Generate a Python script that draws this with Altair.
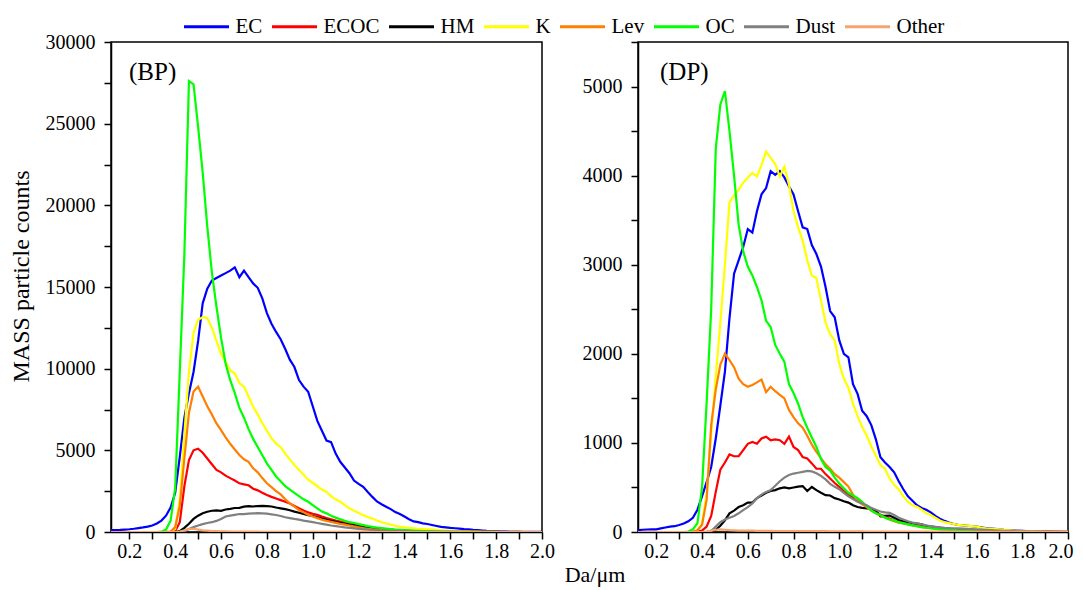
import altair as alt
import pandas as pd

# sampling grid of particle diameter (um), 0.12 .. 2.00 step 0.02
X = [round(0.12 + 0.02 * i, 2) for i in range(95)]

SERIES = ["EC", "ECOC", "HM", "K", "Lev", "OC", "Dust", "Other"]
COLORS = ["#0000FF", "#FF0000", "#000000", "#FFFF00", "#FF7F00", "#00FF00", "#808080", "#F4A46C"]

# ---------------- BP panel ----------------
BP_EC = [110, 120, 130, 150, 170, 200, 240, 280, 330, 400,
         520, 700, 1000, 1500, 2400, 4600, 7000, 8500, 9800, 11700,
         14000, 14900, 15400, 15550, 15700, 15850, 16000, 16200, 15600, 16000,
         15600, 15220, 14950, 14300, 13400, 12750, 12250, 11800, 11200, 10550,
         10100, 9300, 8900, 8590, 7700, 6800, 6200, 5600, 5500, 4800,
         4300, 3950, 3600, 3150, 2950, 2770, 2450, 2150, 1870, 1700,
         1550, 1400, 1220, 1100, 950, 780, 650, 600, 530, 490,
         430, 370, 310, 280, 250, 230, 210, 180, 160, 130,
         110, 90, 70, 60, 50, 40, 35, 30, 25, 20,
         15, 12, 10, 8, 5]
BP_ECOC = [0, 0, 0, 0, 0, 0, 0, 0, 0, 0,
           0, 0, 10, 20, 50, 600, 2800, 4400, 5000, 5100,
           4850, 4500, 4150, 3800, 3650, 3450, 3300, 3150, 2980, 2920,
           2860, 2650, 2550, 2400, 2260, 2150, 2050, 1950, 1850, 1750,
           1600, 1450, 1320, 1200, 1120, 1050, 950, 860, 780, 700,
           640, 570, 520, 460, 400, 350, 300, 260, 220, 190,
           160, 140, 120, 100, 85, 70, 60, 50, 40, 35,
           30, 25, 20, 18, 15, 12, 10, 8, 6, 5,
           4, 3, 3, 2, 2, 1, 1, 1, 0, 0,
           0, 0, 0, 0, 0]
BP_HM = [0, 0, 0, 0, 0, 0, 0, 0, 0, 0,
         0, 0, 0, 0, 0, 50, 250, 500, 800, 1000,
         1150, 1240, 1300, 1320, 1300, 1380, 1420, 1470, 1480, 1550,
         1580, 1560, 1590, 1600, 1580, 1560, 1500, 1450, 1400, 1330,
         1250, 1180, 1100, 1030, 980, 900, 820, 740, 680, 620,
         560, 500, 460, 410, 360, 310, 270, 240, 210, 180,
         150, 130, 110, 90, 75, 60, 50, 40, 35, 30,
         25, 20, 16, 13, 10, 8, 6, 5, 4, 3,
         2, 2, 1, 1, 1, 0, 0, 0, 0, 0,
         0, 0, 0, 0, 0]
BP_K = [0, 0, 0, 0, 0, 0, 0, 0, 0, 0,
        0, 0, 0, 20, 200, 2000, 6000, 9800, 12200, 13000,
        13150, 13100, 12500, 11700, 10900, 10400, 9900, 9700, 9120, 8890,
        8300, 7670, 7200, 6670, 6200, 5750, 5400, 5200, 4800, 4450,
        4100, 3800, 3500, 3200, 3000, 2800, 2600, 2450, 2200, 2000,
        1850, 1650, 1450, 1300, 1170, 1030, 920, 820, 700, 600,
        520, 450, 380, 330, 290, 260, 230, 200, 180, 165,
        140, 120, 100, 85, 70, 60, 50, 40, 30, 25,
        20, 15, 12, 10, 8, 6, 5, 4, 3, 2,
        2, 1, 1, 0, 0]
BP_LEV = [0, 0, 0, 0, 0, 0, 0, 0, 0, 0,
          0, 0, 0, 10, 300, 1600, 4500, 7300, 8600, 8900,
          8300, 7700, 7200, 6650, 6240, 5800, 5400, 5050, 4710, 4450,
          4300, 3900, 3650, 3300, 2980, 2750, 2500, 2300, 2000, 1750,
          1550, 1350, 1200, 1050, 950, 850, 760, 680, 620, 560,
          500, 450, 400, 340, 290, 240, 200, 170, 140, 120,
          100, 85, 70, 60, 50, 40, 35, 30, 25, 20,
          16, 13, 10, 8, 6, 5, 4, 3, 2, 2,
          1, 1, 1, 0, 0, 0, 0, 0, 0, 0,
          0, 0, 0, 0, 0]
BP_OC = [0, 0, 0, 0, 0, 0, 0, 0, 0, 0,
         0, 20, 150, 700, 2700, 9800, 17000, 27600, 27400, 24800,
         22000, 18700, 15900, 13800, 11900, 10300, 9300, 8500, 7600, 7000,
         6300, 5700, 5200, 4700, 4200, 3800, 3400, 3100, 2800, 2600,
         2400, 2200, 2000, 1850, 1650, 1450, 1250, 1140, 1000, 880,
         780, 680, 600, 550, 480, 420, 360, 310, 270, 245,
         210, 180, 150, 130, 110, 95, 80, 70, 60, 50,
         42, 35, 30, 25, 20, 16, 13, 10, 8, 6,
         5, 4, 3, 2, 2, 1, 1, 0, 0, 0,
         0, 0, 0, 0, 0]
BP_DUST = [0, 0, 0, 0, 0, 0, 0, 0, 0, 0,
           0, 0, 0, 0, 0, 0, 60, 180, 300, 400,
           480, 550, 600, 680, 800, 950, 1000, 1050, 1100, 1100,
           1120, 1140, 1150, 1140, 1120, 1080, 1040, 980, 900, 850,
           800, 760, 700, 650, 600, 550, 500, 450, 400, 360,
           320, 280, 250, 220, 190, 165, 140, 120, 100, 85,
           70, 60, 50, 42, 35, 30, 25, 20, 16, 13,
           10, 8, 6, 5, 4, 3, 2, 2, 1, 1,
           0, 0, 0, 0, 0, 0, 0, 0, 0, 0,
           0, 0, 0, 0, 0]
BP_OTHER = [0, 0, 0, 0, 0, 0, 0, 0, 0, 0,
            0, 0, 0, 0, 0, 30, 100, 180, 200, 150,
            100, 80, 60, 50, 40, 35, 30, 30, 25, 25,
            20, 20, 20, 15, 15, 15, 12, 12, 10, 10,
            10, 8, 8, 8, 6, 6, 5, 5, 5, 4,
            4, 3, 3, 3, 2, 2, 2, 2, 1, 1,
            0, 0, 0, 0, 0, 0, 0, 0, 0, 0,
            0, 0, 0, 0, 0, 0, 0, 0, 0, 0,
            0, 0, 0, 0, 0, 0, 0, 0, 0, 0,
            0, 0, 0, 0, 0]

# ---------------- DP panel ----------------
DP_EC = [22, 25, 28, 30, 30, 40, 50, 60, 65, 78,
         95, 120, 160, 250, 400, 560, 730, 1050, 1420, 1800,
         2400, 2900, 3050, 3200, 3400, 3360, 3600, 3790, 3860, 4050,
         4010, 4050, 3980, 3880, 3790, 3600, 3420, 3400, 3220, 3120,
         2980, 2750, 2480, 2410, 2150, 2000, 1960, 1660, 1550, 1360,
         1300, 1200, 1040, 840, 780, 730, 670, 570, 480, 400,
         350, 300, 270, 250, 220, 180, 150, 125, 105, 90,
         80, 75, 70, 65, 60, 52, 45, 40, 35, 30,
         25, 22, 18, 15, 12, 10, 8, 7, 6, 5,
         5, 4, 4, 3, 3]
DP_ECOC = [0, 0, 0, 0, 0, 0, 0, 0, 0, 0,
           0, 0, 0, 5, 15, 60, 180, 450, 700, 780,
           870, 850, 850, 920, 990, 1010, 990, 1050, 1070, 1030,
           1040, 1030, 990, 1070, 955, 920, 840, 825, 770, 710,
           710, 650, 600, 550, 507, 460, 420, 390, 360, 320,
           290, 250, 220, 195, 175, 150, 130, 115, 100, 90,
           80, 72, 65, 60, 55, 50, 45, 40, 35, 32,
           30, 27, 24, 21, 18, 16, 14, 12, 10, 9,
           8, 7, 6, 5, 4, 3, 3, 2, 2, 2,
           1, 1, 1, 1, 1]
DP_HM = [0, 0, 0, 0, 0, 0, 0, 0, 0, 0,
         0, 0, 0, 0, 0, 0, 10, 25, 70, 130,
         210, 240, 280, 300, 330, 330, 380, 410, 440, 460,
         470, 490, 500, 490, 500, 510, 515, 460, 505, 470,
         440, 414, 410, 380, 365, 345, 330, 300, 280, 270,
         265, 265, 240, 175, 180, 185, 160, 135, 120, 110,
         100, 95, 85, 70, 60, 55, 48, 42, 36, 32,
         30, 26, 22, 18, 15, 12, 10, 8, 7, 6,
         5, 4, 3, 3, 2, 2, 1, 1, 1, 1,
         1, 0, 0, 0, 0]
DP_K = [0, 0, 0, 0, 0, 0, 0, 0, 0, 0,
        0, 0, 0, 20, 100, 430, 1100, 1750, 2350, 3000,
        3700, 3780, 3840, 3920, 3980, 4030, 3990, 4120, 4270, 4200,
        4130, 3990, 4100, 3900, 3600, 3420, 3270, 3050, 2880, 2850,
        2600, 2350, 2220, 2150, 1890, 1720, 1620, 1440, 1300, 1180,
        1080, 960, 860, 750, 710, 600, 530, 480, 400, 340,
        300, 283, 250, 210, 190, 160, 130, 110, 100, 90,
        80, 75, 70, 65, 60, 50, 42, 38, 34, 30,
        25, 20, 16, 13, 10, 8, 6, 5, 4, 3,
        3, 2, 2, 1, 1]
DP_LEV = [0, 0, 0, 0, 0, 0, 0, 0, 0, 0,
          0, 0, 5, 20, 80, 360, 1200, 1600, 1880, 2000,
          1930, 1850, 1720, 1660, 1630, 1650, 1680, 1710, 1570, 1630,
          1580, 1540, 1500, 1370, 1290, 1220, 1170, 1080, 980, 900,
          830, 760, 710, 650, 610, 560, 510, 420, 350, 310,
          280, 240, 210, 185, 165, 140, 120, 105, 95, 85,
          75, 65, 55, 48, 42, 38, 32, 28, 24, 20,
          17, 15, 12, 10, 8, 6, 5, 4, 3, 2,
          2, 1, 1, 1, 0, 0, 0, 0, 0, 0,
          0, 0, 0, 0, 0]
DP_OC = [0, 0, 0, 0, 0, 0, 0, 0, 0, 0,
         0, 5, 30, 100, 500, 1450, 2500, 4300, 4800, 4950,
         4500, 4000, 3450, 3150, 2980, 2880, 2750, 2600, 2370, 2300,
         2100, 2000, 1910, 1660, 1560, 1440, 1290, 1170, 1060, 955,
         820, 730, 690, 610, 545, 490, 440, 410, 380, 340,
         290, 240, 210, 190, 160, 140, 130, 110, 100, 85,
         75, 65, 55, 48, 42, 35, 30, 26, 23, 20,
         18, 15, 12, 10, 8, 7, 6, 5, 4, 3,
         3, 2, 2, 1, 1, 1, 0, 0, 0, 0,
         0, 0, 0, 0, 0]
DP_DUST = [0, 0, 0, 0, 0, 0, 0, 0, 0, 0,
           0, 0, 0, 0, 0, 0, 10, 60, 110, 140,
           160, 180, 210, 246, 280, 320, 380, 420, 450, 470,
           520, 570, 610, 640, 656, 665, 675, 686, 680, 660,
           630, 590, 540, 507, 480, 440, 400, 370, 340, 320,
           300, 270, 250, 230, 220, 215, 190, 160, 140, 120,
           105, 97, 85, 75, 65, 58, 52, 47, 44, 42,
           40, 38, 35, 32, 29, 26, 23, 21, 18, 16,
           14, 12, 10, 8, 7, 6, 5, 4, 3, 3,
           2, 2, 1, 1, 1]
DP_OTHER = [0, 0, 0, 0, 0, 0, 0, 0, 0, 0,
            0, 0, 0, 0, 0, 5, 15, 25, 30, 25,
            20, 18, 15, 15, 15, 15, 12, 12, 12, 12,
            10, 10, 10, 10, 10, 10, 10, 10, 10, 10,
            10, 10, 8, 8, 8, 8, 6, 6, 6, 6,
            5, 5, 5, 5, 5, 5, 5, 5, 5, 5,
            4, 4, 4, 4, 4, 4, 4, 4, 4, 4,
            3, 3, 3, 3, 3, 3, 3, 3, 3, 3,
            2, 2, 2, 2, 2, 2, 2, 2, 2, 2,
            1, 1, 1, 1, 1]

X_TICKS = [0.2, 0.3, 0.4, 0.5, 0.6, 0.7, 0.8, 0.9, 1.0, 1.1, 1.2, 1.3, 1.4,
           1.5, 1.6, 1.7, 1.8, 1.9, 2.0]
BP_YTICKS = [0, 2500, 5000, 7500, 10000, 12500, 15000, 17500, 20000,
             22500, 25000, 27500, 30000]
DP_YTICKS = [0, 500, 1000, 1500, 2000, 2500, 3000, 3500, 4000, 4500, 5000, 5500]

FONT = "Liberation Serif"
X_LABELS = "round(datum.value*10) % 2 == 0 ? format(datum.value, '.1f') : ''"


def long_frame(series_lists):
    rows = []
    for k, (name, vals) in enumerate(zip(SERIES, series_lists)):
        for x, v in zip(X, vals):
            rows.append({"x": x, "count": v, "species": name, "k": k})
    return pd.DataFrame(rows)


bp_df = long_frame([BP_EC, BP_ECOC, BP_HM, BP_K, BP_LEV, BP_OC, BP_DUST, BP_OTHER])
dp_df = long_frame([DP_EC, DP_ECOC, DP_HM, DP_K, DP_LEV, DP_OC, DP_DUST, DP_OTHER])


def panel(df, ymax, yticks, major, label, label_dx, ytitle, w, xaxis):
    y_expr = f"datum.value % {major} == 0 ? '' + datum.value : ''"
    if ytitle:
        yaxis = alt.Axis(values=yticks, title=ytitle, labelExpr=y_expr,
                         titleY=234, titlePadding=12, labelPadding=9,
                         labelFlush=False, labelOverlap=False)
    else:
        yaxis = alt.Axis(values=yticks, title=None, labelExpr=y_expr, labelPadding=9,
                         labelFlush=False, labelOverlap=False)
    lines = alt.Chart(df).mark_line(strokeWidth=2.2, clip=True).encode(
        x=alt.X("x:Q",
                scale=alt.Scale(domain=[0.12, 2.0], nice=False, zero=False),
                axis=xaxis),
        y=alt.Y("count:Q", scale=alt.Scale(domain=[0, ymax], nice=False), axis=yaxis),
        color=alt.Color("species:N",
                        scale=alt.Scale(domain=SERIES, range=COLORS),
                        legend=alt.Legend(title=None)),
        detail="k:O",
    )
    txt = alt.Chart(pd.DataFrame({"t": [label]})).mark_text(
        font=FONT, fontSize=25, align="left", baseline="middle", color="black"
    ).encode(x=alt.value(label_dx), y=alt.value(30), text="t:N")
    return alt.layer(lines, txt).properties(width=w, height=490)


left_x = alt.Axis(values=X_TICKS, title=None, labelPadding=2, labelFlush=False,
                  labelOverlap=False, labelExpr=X_LABELS)
right_x = alt.Axis(values=X_TICKS, title=None, labelPadding=2, labelFlush=True,
                   labelFlushOffset=5, labelOverlap=False, labelExpr=X_LABELS)

left = panel(bp_df, 30000, BP_YTICKS, 5000, "(BP)", 18, "MASS particle counts", 431, left_x)
right = panel(dp_df, 5500, DP_YTICKS, 1000, "(DP)", 22, None, 430, right_x)

chart = alt.hconcat(left, right, spacing=25).properties(
    title=alt.TitleParams("Da/μm", orient="bottom", anchor="middle", font=FONT,
                          fontSize=22, fontWeight="normal", color="black", offset=3, dx=54),
    padding={"left": 0, "top": 2, "right": 0, "bottom": 2},
).configure_view(
    stroke="black", strokeWidth=1.5
).configure_axis(
    grid=False, domainColor="black", domainWidth=1.5, tickColor="black",
    tickWidth=1.5, tickSize=7, labelFont=FONT, labelFontSize=20,
    labelColor="black", titleFont=FONT, titleFontSize=24,
    titleFontWeight="normal", titleColor="black",
).configure_legend(
    orient="none", legendX=79, legendY=-32, direction="horizontal",
    symbolType="M-1.5,0H1.5", symbolSize=900, symbolStrokeWidth=3,
    labelFont=FONT, labelFontSize=21, labelColor="black",
    columns=8, columnPadding=3, labelOffset=12.5,
)

chart.save("out.html", embed_options={"renderer": "svg", "actions": False})
